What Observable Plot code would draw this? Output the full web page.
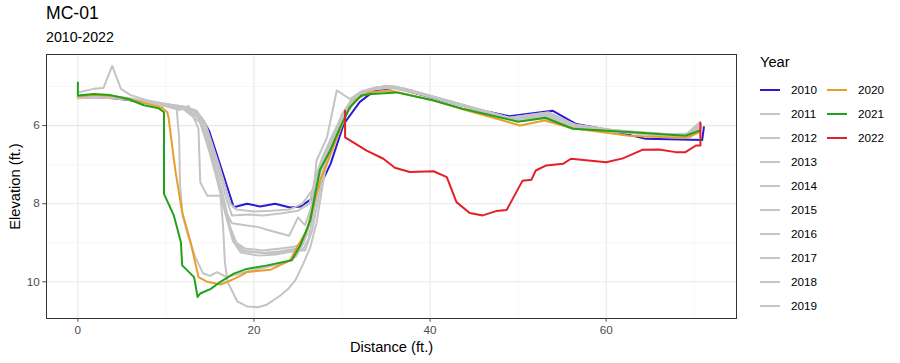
<!DOCTYPE html>
<html>
<head>
<meta charset="utf-8">
<script src="https://cdn.jsdelivr.net/npm/d3@7"></script>
<script src="https://cdn.jsdelivr.net/npm/@observablehq/plot@0.6"></script>
<style>
  html, body { margin: 0; padding: 0; background: #fff; }
  #wrap { position: relative; width: 900px; height: 363px; font-family: "Liberation Sans", Arial, sans-serif; overflow: hidden; }
  #title { position: absolute; left: 46px; top: 3px; font-size: 17.6px; color: #000; }
  #subtitle { position: absolute; left: 46px; top: 29px; font-size: 14.2px; color: #000; }
  #chart { position: absolute; left: 0; top: 50px; }
  #legend { position: absolute; left: 760px; top: 54px; font-size: 11.7px; color: #000; }
  #legend .ttl { position: absolute; left: 0; top: 0; font-size: 14.7px; }
  .item { position: absolute; height: 14px; }
  .item .key { position: absolute; left: 0; top: 6px; width: 20px; height: 2px; }
  .item .lab { position: absolute; left: 31px; top: 0; line-height: 14px; }
</style>
</head>
<body>
<div id="wrap">
  <div id="title">MC-01</div>
  <div id="subtitle">2010-2022</div>
  <div id="chart"></div>
  <div id="legend"></div>
</div>
<script>
// ---- data: [distance (ft.), elevation (ft.)] per survey year ----
const years = ["2010","2011","2012","2013","2014","2015","2016","2017","2018","2019","2020","2021","2022"];
const colors = ["#2b18d9","#c4c4c4","#c4c4c4","#c4c4c4","#c4c4c4","#c4c4c4","#c4c4c4","#c4c4c4","#c4c4c4","#c4c4c4","#e89f2a","#21a21a","#e41f26"];
const xTicks = [0, 20, 40, 60];
const yTicks = [6, 8, 10];

const s2010 = [[0,5.28],[2,5.27],[4,5.3],[6,5.35],[8,5.42],[10,5.49],[12,5.55],[13.2,5.62],[14.2,5.85],[14.9,6.13],[16.3,7.1],[17.7,8.09],[19.2,8.0],[20.7,8.07],[22.4,8.0],[24.1,8.1],[25.3,8.07],[26.6,7.87],[27.6,7.5],[28.7,6.98],[30.2,5.96],[32,5.4],[33.7,5.1],[36,5.03],[40,5.27],[45,5.57],[49,5.76],[53.9,5.62],[56.6,5.96],[60,6.1],[64.5,6.34],[70.9,6.37],[71.1,6.04]];
const s2011 = [[0,5.15],[1.8,5.06],[2.9,5.04],[3.9,4.47],[4.9,5.06],[6,5.22],[8,5.36],[10,5.45],[12,5.52],[13.5,5.62],[14.5,5.95],[16,7.0],[17.3,8.0],[18,8.15],[20,8.2],[22,8.18],[24,8.15],[25.5,8.0],[26.8,7.6],[27.5,7.0],[28.5,6.5],[29.5,6.0],[30.5,5.55],[32,5.2],[33.5,5.05],[35,4.98],[37,5.05],[40,5.25],[45,5.55],[49,5.8],[53,5.68],[56,6.0],[60,6.1],[65,6.2],[69,6.28],[70.6,5.95]];
const s2012 = [[0,5.3],[2,5.28],[4,5.3],[6,5.34],[8,5.4],[10,5.47],[12,5.55],[13.3,5.6],[14.3,5.9],[15.8,7.0],[16.9,7.9],[17.5,8.3],[19.5,8.28],[21,8.3],[23,8.25],[25,8.18],[26.3,8.0],[27,7.3],[27.8,6.8],[29,6.3],[30,5.7],[31,5.4],[32.5,5.15],[34,5.02],[35.5,5.0],[38,5.12],[41,5.3],[45,5.55],[49,5.82],[53.5,5.72],[56.5,5.98],[61,6.12],[66,6.2],[69.5,6.28],[70.8,6.0]];
const s2013 = [[0,5.27],[2,5.25],[4,5.26],[6,5.32],[8,5.4],[10,5.48],[12,5.56],[13.5,5.65],[14.5,6.0],[15.8,7.2],[16.8,8.2],[17.5,8.5],[19,8.55],[20.5,8.6],[22,8.7],[24,8.82],[25,8.35],[25.8,8.55],[26.5,8.1],[27.2,7.3],[28,6.7],[29,6.2],[30,5.75],[31,5.35],[32.5,5.12],[34,5.02],[36,5.0],[39,5.18],[42,5.38],[46,5.65],[49.5,5.85],[53,5.75],[56,6.02],[60,6.12],[64,6.2],[69,6.3],[70.6,5.98]];
const s2014 = [[0,5.28],[2,5.25],[4,5.28],[6,5.33],[8,5.42],[10,5.5],[12,5.58],[13.9,5.92],[15,6.7],[16.2,7.62],[17.1,8.47],[17.7,8.98],[18.5,9.2],[20,9.24],[22,9.28],[24,9.2],[25.3,9.15],[26,8.8],[26.6,8.0],[27.2,7.4],[28,6.9],[29,6.3],[30,5.8],[31,5.4],[32.5,5.15],[34,5.03],[35.5,5.02],[38,5.14],[41,5.32],[45,5.58],[49,5.83],[53,5.78],[56,6.02],[61,6.14],[66,6.22],[69.5,6.3],[70.8,6.05]];
const s2015 = [[0,5.25],[2,5.23],[4,5.25],[6,5.3],[8,5.38],[10,5.45],[12.6,5.53],[13.5,5.7],[14.5,6.3],[15.7,7.3],[16.8,8.3],[17.6,8.95],[18.5,9.25],[20.5,9.33],[22.5,9.3],[24.5,9.22],[25.5,9.2],[26.2,8.9],[26.8,8.2],[27.4,7.5],[28.2,6.9],[29.2,6.3],[30.2,5.75],[31.5,5.3],[33,5.08],[35,4.98],[37,5.05],[40,5.25],[44,5.5],[49,5.82],[53.5,5.7],[56.5,6.0],[62,6.15],[67,6.22],[70,6.2],[70.8,6.0]];
const s2016 = [[0,5.26],[2,5.24],[4,5.27],[6,5.32],[8,5.4],[10,5.47],[12,5.55],[14,5.85],[15.3,6.8],[16.5,7.8],[17.3,8.6],[18,9.0],[19,9.15],[21,9.2],[23,9.15],[24.6,9.1],[25.6,9.0],[26.3,8.5],[27,7.7],[27.6,7.1],[28.5,6.6],[29.5,6.05],[30.5,5.6],[32,5.22],[33.5,5.06],[35.5,5.0],[38,5.12],[42,5.36],[46,5.62],[49.5,5.84],[53,5.74],[56,6.0],[60,6.1],[65,6.22],[69,6.24],[70.6,5.92]];
const s2017 = [[0,5.3],[2,5.27],[4,5.29],[6,5.34],[8,5.43],[10,5.5],[12,5.58],[13.7,5.75],[14.8,6.5],[16,7.5],[17,8.4],[17.8,9.0],[19,9.22],[21,9.26],[23,9.22],[24.5,9.16],[25.8,9.2],[26.6,8.7],[27.2,8.0],[27.8,7.3],[28.8,6.7],[29.8,6.1],[30.8,5.55],[32,5.25],[33.5,5.08],[35.5,5.03],[38,5.15],[41,5.3],[45,5.57],[49,5.84],[53.5,5.76],[56.5,6.04],[61,6.16],[66,6.24],[69.5,6.3],[70.8,6.02]];
const s2018 = [[0,5.27],[2,5.24],[4,5.26],[6,5.32],[8,5.4],[10,5.47],[11.2,5.52],[11.5,6.3],[11.6,7.5],[11.9,8.3],[12.5,8.8],[13.3,9.35],[14.2,9.78],[15,9.85],[15.8,9.75],[16.9,9.88],[18.2,9.8],[19.5,9.72],[21.5,9.62],[23.5,9.52],[24.8,9.35],[25.6,9.0],[26.3,8.5],[26.8,7.6],[27.1,6.9],[28.3,6.3],[29.4,5.1],[30.9,5.32],[32.2,5.12],[34,5.02],[36,5.0],[39,5.2],[43,5.45],[47,5.7],[50,5.88],[53,5.82],[56,6.05],[61,6.15],[66,6.25],[69.5,6.3],[70.8,6.05]];
const s2019 = [[0,5.28],[2,5.26],[4,5.28],[6,5.33],[8,5.42],[10,5.5],[11.5,5.6],[12.6,5.5],[13.7,6.08],[13.9,7.45],[14.7,7.8],[16.2,7.8],[16.5,8.6],[16.7,9.5],[17,10.0],[18.1,10.5],[19.2,10.63],[20.5,10.65],[21.5,10.58],[23,10.35],[23.9,10.18],[24.7,9.96],[25.6,9.54],[26.4,9.11],[27.1,8.5],[27.6,7.8],[28.2,7.0],[29,6.4],[30,5.85],[31,5.4],[32.5,5.15],[34,5.04],[35.5,5.0],[38,5.1],[41,5.3],[45,5.55],[49,5.8],[53.5,5.66],[56.5,5.98],[61,6.14],[66,6.22],[69.5,6.27],[70.7,5.97]];
const s2020 = [[0,5.25],[2,5.21],[4,5.24],[6,5.33],[8,5.45],[9.6,5.55],[10.15,5.66],[10.3,5.79],[10.7,6.51],[11.1,7.19],[11.85,8.22],[12.8,8.98],[13.7,9.88],[14.7,10.0],[16.2,10.07],[17,10.0],[18.5,9.84],[19.2,9.75],[21.9,9.69],[24.1,9.45],[24.9,9.11],[26,8.69],[27.5,7.41],[29,6.55],[30.5,5.7],[31.5,5.35],[33,5.15],[35.4,5.1],[40,5.33],[44,5.6],[48,5.85],[50.2,6.0],[53,5.87],[56.2,6.07],[62.6,6.26],[69,6.32],[70.6,6.17]];
const s2021 = [[0,4.9],[0,5.23],[1.8,5.19],[3.7,5.22],[5.7,5.32],[7.5,5.48],[9.2,5.56],[9.78,5.66],[9.78,7.75],[10.9,8.3],[11.7,8.98],[11.85,9.58],[13.2,9.88],[13.6,10.39],[13.9,10.3],[15.1,10.18],[16.2,10.0],[17.7,9.79],[19.2,9.67],[21.5,9.58],[24.3,9.45],[25.3,9.05],[26.4,8.43],[26.95,7.75],[27.5,7.13],[28.65,6.64],[29.8,6.04],[30.9,5.53],[32.2,5.23],[33.4,5.19],[36.2,5.15],[40.4,5.36],[43.7,5.57],[50,5.9],[53.1,5.8],[56.2,6.08],[63,6.17],[69,6.26],[70.6,6.13]];
const s2022 = [[30.35,5.62],[30.35,6.3],[32.8,6.64],[34.7,6.85],[36,7.08],[37.7,7.19],[40.4,7.17],[41.9,7.32],[43,7.96],[44.5,8.24],[46,8.3],[47.5,8.19],[48.7,8.16],[50.5,7.41],[51.5,7.39],[52,7.15],[53.2,7.02],[55.1,6.98],[56,6.85],[60,6.94],[61.9,6.84],[64.1,6.62],[66,6.61],[67.9,6.68],[69,6.68],[70.2,6.51],[70.7,6.51],[70.7,5.92]];

const series = [s2010,s2011,s2012,s2013,s2014,s2015,s2016,s2017,s2018,s2019,s2020,s2021,s2022];

// ---- build table ----
const rows = [];
series.forEach((s, i) => s.forEach(([d, e]) => rows.push({year: years[i], dist: d, elev: e})));

const font = '"Liberation Sans", Arial, sans-serif';
const plot = Plot.plot({
  width: 900,
  height: 313,
  marginLeft: 46,
  marginRight: 164,
  marginTop: 4,
  marginBottom: 45,
  style: {fontFamily: font, background: "#fff", overflow: "visible"},
  x: {domain: [-3.56, 74.8]},
  y: {domain: [4.18, 10.94], reverse: true},
  color: {domain: years, range: colors},
  marks: [
    Plot.ruleX([10, 30, 50, 70], {stroke: "#f1f1f1", strokeWidth: 0.6}),
    Plot.ruleY([5, 7, 9], {stroke: "#f1f1f1", strokeWidth: 0.6}),
    Plot.ruleX(xTicks, {stroke: "#e8e8e8", strokeWidth: 1.1}),
    Plot.ruleY(yTicks, {stroke: "#e8e8e8", strokeWidth: 1.1}),
    Plot.line(rows, {x: "dist", y: "elev", z: "year", stroke: "year", strokeWidth: 2, curve: "linear"}),
    Plot.frame({stroke: "#333333", strokeWidth: 1}),
    Plot.axisX({ticks: xTicks, tickFormat: d => String(d), tickSize: 3.7, tickPadding: 3, label: null, fontSize: 11.7, color: "#4d4d4d"}),
    Plot.axisY({ticks: yTicks, tickFormat: d => String(d), tickSize: 3.7, tickPadding: 3, label: null, fontSize: 11.7, color: "#4d4d4d"}),
    Plot.text(["Distance (ft.)"], {frameAnchor: "bottom", dy: 29, lineAnchor: "middle", textAnchor: "middle", fontSize: 14.7, fill: "#000"}),
    Plot.text(["Elevation (ft.)"], {frameAnchor: "left", dx: -31, rotate: -90, textAnchor: "middle", lineAnchor: "middle", fontSize: 14.7, fill: "#000"})
  ]
});
document.getElementById("chart").appendChild(plot);

// ---- legend ----
const leg = document.getElementById("legend");
const t = document.createElement("div");
t.className = "ttl"; t.textContent = "Year"; leg.appendChild(t);
years.forEach((y, i) => {
  const col = i < 10 ? 0 : 1;
  const row = i < 10 ? i : i - 10;
  const it = document.createElement("div");
  it.className = "item";
  it.style.left = (col * 67) + "px";
  it.style.top = (29 + row * 24.05) + "px";
  it.innerHTML = `<div class="key" style="background:${colors[i]}"></div><div class="lab">${y}</div>`;
  leg.appendChild(it);
});
</script>
</body>
</html>
